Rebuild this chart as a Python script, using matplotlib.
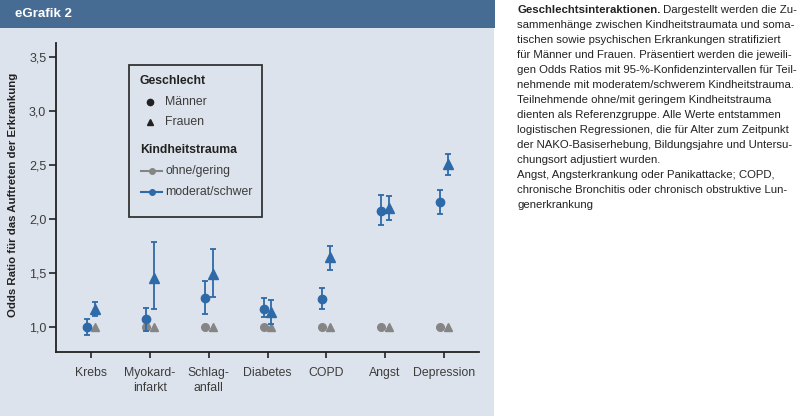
import matplotlib
matplotlib.use("Agg")
import matplotlib.pyplot as plt
from matplotlib.patches import Rectangle
from matplotlib.lines import Line2D
from matplotlib.ticker import FuncFormatter

plt.rcParams["font.family"] = ["Liberation Sans", "DejaVu Sans"]

W, H = 800, 416

categories = ["Krebs", "Myokard-\ninfarkt", "Schlag-\nanfall", "Diabetes", "COPD", "Angst", "Depression"]

# Odds ratios (moderat/schwer) with 95 % CI
men_or = [1.00, 1.07, 1.27, 1.17, 1.26, 2.07, 2.16]
men_lo = [0.93, 0.96, 1.12, 1.09, 1.17, 1.94, 2.05]
men_hi = [1.07, 1.18, 1.43, 1.27, 1.36, 2.22, 2.27]
women_or = [1.17, 1.45, 1.49, 1.14, 1.645, 2.105, 2.51]
women_lo = [1.10, 1.17, 1.275, 1.025, 1.53, 1.99, 2.41]
women_hi = [1.23, 1.79, 1.72, 1.25, 1.75, 2.21, 2.60]
# reference group
ref_or = [1.0] * 7

yticks = [1.0, 1.5, 2.0, 2.5, 3.0, 3.5]

caption_bold = "Geschlechtsinteraktionen."
caption_lines = [
    " Dargestellt werden die Zu-",
    "sammenhänge zwischen Kindheitstraumata und soma-",
    "tischen sowie psychischen Erkrankungen stratifiziert",
    "für Männer und Frauen. Präsentiert werden die jeweili-",
    "gen Odds Ratios mit 95-%-Konfidenzintervallen für Teil-",
    "nehmende mit moderatem/schwerem Kindheitstrauma.",
    "Teilnehmende ohne/mit geringem Kindheitstrauma",
    "dienten als Referenzgruppe. Alle Werte entstammen",
    "logistischen Regressionen, die für Alter zum Zeitpunkt",
    "der NAKO-Basiserhebung, Bildungsjahre und Untersu-",
    "chungsort adjustiert wurden.",
    "Angst, Angsterkrankung oder Panikattacke; COPD,",
    "chronische Bronchitis oder chronisch obstruktive Lun-",
    "generkrankung",
]

blue = "#2d6aa7"
grey = "#858585"
panel = "#dde3ec"
header = "#466c94"
txt = "#3c3c3c"
dark = "#222222"


def fx(x):
    return x / W


def fy(y):
    return 1 - y / H


fig = plt.figure(figsize=(W / 100, H / 100), dpi=100)
fig.patch.set_facecolor("white")
fig.patches.append(Rectangle((0, 0), fx(494), 1, transform=fig.transFigure,
                             facecolor=panel, edgecolor="none", zorder=-2))
fig.patches.append(Rectangle((0, fy(28)), fx(495), 1 - fy(28), transform=fig.transFigure,
                             facecolor=header, edgecolor="none", zorder=-1))
fig.text(fx(15), fy(14), "eGrafik 2", color="white", fontsize=9.5, fontweight="bold",
         va="center", ha="left")

ax = fig.add_axes([fx(56), fy(352), fx(479) - fx(56), fy(43) - fy(352)])
ax.set_facecolor("none")
ax.set_zorder(2)

x = list(range(len(categories)))
off = 0.065
xm = [v - off for v in x]
xw = [v + off for v in x]

ax.plot(xm, ref_or, "o", color=grey, ms=5.5, zorder=2)
ax.plot(xw, ref_or, "^", color=grey, ms=6, zorder=2)

ax.errorbar(xm, men_or,
            yerr=[[a - b for a, b in zip(men_or, men_lo)], [b - a for a, b in zip(men_or, men_hi)]],
            fmt="o", color=blue, ms=6, elinewidth=1.3, capsize=2.5, capthick=1.3, zorder=3)
ax.errorbar(xw, women_or,
            yerr=[[a - b for a, b in zip(women_or, women_lo)], [b - a for a, b in zip(women_or, women_hi)]],
            fmt="^", color=blue, ms=6.5, elinewidth=1.3, capsize=2.5, capthick=1.3, zorder=3)

ax.set_xlim(-0.6, 6.6)
ax.set_ylim(0.7685, 3.63)
ax.set_xticks(x)
ax.set_xticklabels(categories, fontsize=8.8, color=txt, linespacing=1.3)
ax.set_yticks(yticks)
ax.yaxis.set_major_formatter(FuncFormatter(lambda v, p: f"{v:.1f}".replace(".", ",")))
ax.tick_params(axis="y", labelsize=9, labelcolor=txt, length=5, width=1.2, color=dark, pad=2)
ax.tick_params(axis="x", length=4, width=1.2, color=dark, pad=7)
for s in ["top", "right"]:
    ax.spines[s].set_visible(False)
for s in ["left", "bottom"]:
    ax.spines[s].set_linewidth(1.3)
    ax.spines[s].set_color(dark)

ax.set_ylabel("Odds Ratio für das Auftreten der Erkrankung", fontsize=8.2,
              fontweight="bold", color=dark)
ax.yaxis.set_label_coords((fx(18) - fx(56)) / (fx(479) - fx(56)),
                          (fy(195) - fy(352)) / (fy(43) - fy(352)))

# legend box
fig.patches.append(Rectangle((fx(129), fy(217)), fx(262) - fx(129), fy(65) - fy(217),
                             transform=fig.transFigure, facecolor="none",
                             edgecolor="#333333", linewidth=1.3, zorder=5))
fig.text(fx(140), fy(81), "Geschlecht", fontsize=8.8, fontweight="bold", color=dark, va="center")
fig.text(fx(140), fy(150), "Kindheitstrauma", fontsize=8.8, fontweight="bold", color=dark, va="center")
fig.lines.append(Line2D([fx(150)], [fy(102)], marker="o", ms=4.5, color=dark,
                        linestyle="none", transform=fig.transFigure))
fig.lines.append(Line2D([fx(150)], [fy(122)], marker="^", ms=5, color=dark,
                        linestyle="none", transform=fig.transFigure))
fig.lines.append(Line2D([fx(141), fx(151.5), fx(162)], [fy(171)] * 3, marker="o", ms=4,
                        markevery=[1], color=grey, lw=1.5, transform=fig.transFigure))
fig.lines.append(Line2D([fx(141), fx(151.5), fx(162)], [fy(192)] * 3, marker="o", ms=4,
                        markevery=[1], color=blue, lw=1.5, transform=fig.transFigure))
for y, t in [(102, "Männer"), (122, "Frauen"), (171, "ohne/gering"), (192, "moderat/schwer")]:
    fig.text(fx(165), fy(y), t, fontsize=8.8, color=txt, va="center")

# caption, font size fitted to the column width
r = fig.canvas.get_renderer()
cx = fx(517)
size = 9.5
while size > 6:
    tb = fig.text(0, 0, caption_bold, fontsize=size, fontweight="bold")
    tn = fig.text(0, 0, caption_lines[0], fontsize=size)
    widths = [tb.get_window_extent(r).width + tn.get_window_extent(r).width]
    tb.remove()
    tn.remove()
    for line in caption_lines[1:]:
        t = fig.text(0, 0, line, fontsize=size)
        widths.append(t.get_window_extent(r).width)
        t.remove()
    if max(widths) <= 281:
        break
    size -= 0.1

b = fig.text(cx, fy(10), caption_bold, fontsize=size, fontweight="bold", color=dark, va="center")
bb = b.get_window_extent(renderer=r)
fig.text(bb.x1 / W, fy(10), caption_lines[0], fontsize=size, color=dark, va="center")
for i, line in enumerate(caption_lines[1:], start=1):
    fig.text(cx, fy(10 + 15 * i), line, fontsize=size, color=dark, va="center")

fig.savefig("out.png", dpi=100)
